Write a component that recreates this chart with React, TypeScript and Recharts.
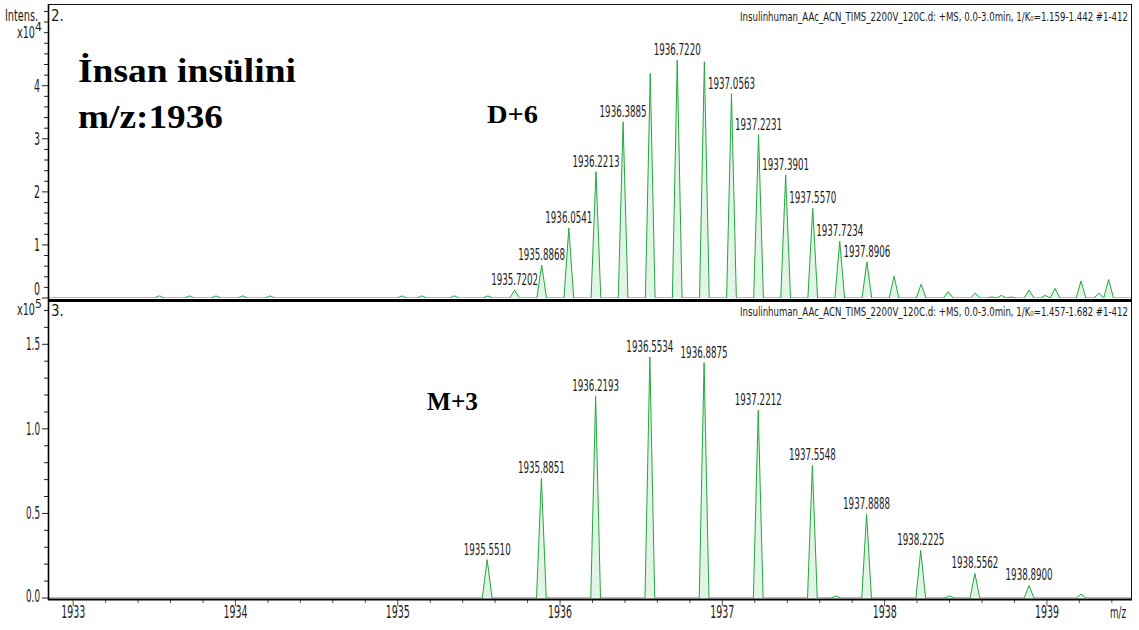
import { ComposedChart, Area, Scatter, XAxis, YAxis } from "recharts";

const MZ_MIN = 1932.845;
const MZ_MAX = 1939.518;

// trace 2: 1/K0 = 1.159-1.442, intensities in units of 1e4
const TOP_MZ = [
  1933.531, 1933.716, 1933.88, 1934.045, 1934.213, 1935.025, 1935.148, 1935.349, 1935.555,
  1935.7202, 1935.8868, 1936.0541, 1936.2213, 1936.3885, 1936.5557, 1936.722, 1936.8893,
  1937.0563, 1937.2231, 1937.3901, 1937.557, 1937.7234, 1937.8906, 1938.058, 1938.225,
  1938.392, 1938.558, 1938.66, 1938.72, 1938.78, 1938.89, 1938.99, 1939.05, 1939.21, 1939.32,
  1939.38,
];
const TOP_INT = [
  0.04, 0.04, 0.04, 0.04, 0.04, 0.04, 0.04, 0.04, 0.04,
  0.15, 0.62, 1.32, 2.38, 3.32, 4.23, 4.48, 4.45,
  3.85, 3.08, 2.32, 1.69, 1.07, 0.68, 0.41, 0.26,
  0.12, 0.09, 0.02, 0.05, 0.02, 0.15, 0.05, 0.18, 0.32, 0.09,
  0.35,
];
const TOP_LABELS = [
  "1935.7202", "1935.8868", "1936.0541", "1936.2213", "1936.3885", "1936.7220",
  "1937.0563", "1937.2231", "1937.3901", "1937.5570", "1937.7234", "1937.8906",
];

// trace 3: 1/K0 = 1.457-1.682, intensities in units of 1e5
const BOTTOM_MZ = [
  1935.551, 1935.8851, 1936.2193, 1936.5534, 1936.8875, 1937.2212, 1937.5548, 1937.7,
  1937.8888, 1938.2225, 1938.4, 1938.5562, 1938.89, 1939.21,
];
const BOTTOM_INT = [
  0.227, 0.707, 1.192, 1.425, 1.392, 1.11, 0.784, 0.012,
  0.494, 0.281, 0.012, 0.145, 0.074, 0.023,
];
const BOTTOM_LABELS = [
  "1935.5510", "1935.8851", "1936.2193", "1936.5534", "1936.8875", "1937.2212",
  "1937.5548", "1937.8888", "1938.2225", "1938.5562", "1938.8900",
];

const TOP_Y_TICKS = [
  0, 0.2, 0.4, 0.6, 0.8, 1, 1.2, 1.4, 1.6, 1.8, 2, 2.2, 2.4, 2.6, 2.8, 3, 3.2, 3.4, 3.6, 3.8,
  4, 4.2, 4.4, 4.6, 4.8, 5, 5.2, 5.4,
];
const TOP_Y_LABELS = [0, 1, 2, 3, 4];
const BOTTOM_Y_TICKS = [
  0, 0.1, 0.2, 0.3, 0.4, 0.5, 0.6, 0.7, 0.8, 0.9, 1, 1.1, 1.2, 1.3, 1.4, 1.5, 1.6, 1.7,
];
const BOTTOM_Y_LABELS = [0, 0.5, 1, 1.5];
const X_TICKS = [
  1933, 1933.2, 1933.4, 1933.6, 1933.8, 1934, 1934.2, 1934.4, 1934.6, 1934.8, 1935, 1935.2,
  1935.4, 1935.6, 1935.8, 1936, 1936.2, 1936.4, 1936.6, 1936.8, 1937, 1937.2, 1937.4, 1937.6,
  1937.8, 1938, 1938.2, 1938.4, 1938.6, 1938.8, 1939, 1939.2, 1939.4,
];
const X_LABELS = [1933, 1934, 1935, 1936, 1937, 1938, 1939];

const TRACE = "#22a83e";
const TRACE_FILL = "#e2f4e5";
const NARROW = "'Liberation Sans Narrow', 'DejaVu Sans Condensed', 'Liberation Sans', sans-serif";
const SERIF = "'Liberation Serif', 'Times New Roman', serif";
const PEAK_HALF_WIDTH = 0.03;

type Pt = { mz: number; i: number };

// stick list -> triangular profile sitting on a zero baseline
function toProfile(mz: number[], inten: number[]): Pt[] {
  const pts: Pt[] = [{ mz: MZ_MIN, i: 0 }];
  mz.forEach((m, k) => {
    pts.push({ mz: m - PEAK_HALF_WIDTH, i: 0 }, { mz: m, i: inten[k] }, { mz: m + PEAK_HALF_WIDTH, i: 0 });
  });
  pts.push({ mz: MZ_MAX, i: 0 });
  return pts;
}

function toLabels(labels: string[], mz: number[], inten: number[]) {
  return labels.map((text) => {
    const m = Number(text);
    const k = mz.findIndex((v) => Math.abs(v - m) < 1e-6);
    return { mz: m, i: inten[k], text };
  });
}

const topProfile = toProfile(TOP_MZ, TOP_INT);
const bottomProfile = toProfile(BOTTOM_MZ, BOTTOM_INT);
const topPeaks = toLabels(TOP_LABELS, TOP_MZ, TOP_INT);
const bottomPeaks = toLabels(BOTTOM_LABELS, BOTTOM_MZ, BOTTOM_INT);

const isIn = (list: number[], v: number) => list.some((l) => Math.abs(l - v) < 1e-6);

const PeakLabel = (props: any) => {
  const { cx, cy, payload } = props;
  return (
    <text
      x={cx}
      y={cy - 5}
      textAnchor="middle"
      fontFamily={NARROW}
      fontSize={15}
      textLength={47}
      lengthAdjust="spacingAndGlyphs"
      fill="#1a1a1a"
    >
      {payload.text}
    </text>
  );
};

// zeroLift raises the "0" label off the panel's bottom rule
function makeYTick(labels: number[], fmt: (v: number) => string, zeroLift: number) {
  return (props: any) => {
    const { x, y, payload } = props;
    const v = payload.value;
    const major = isIn(labels, v);
    const s = fmt(v);
    const ty = v === 0 ? y + 6 - zeroLift : y + 6;
    return (
      <g>
        <line x1={x - (major ? 6 : 4)} x2={x} y1={y} y2={y} stroke="#222" strokeWidth={1} />
        {major && (
          <text
            x={x - 8}
            y={ty}
            textAnchor="end"
            fontFamily={NARROW}
            fontSize={17}
            textLength={s.length === 1 ? 6 : 14}
            lengthAdjust="spacingAndGlyphs"
            fill="#1a1a1a"
          >
            {s}
          </text>
        )}
      </g>
    );
  };
}

const XTick = (props: any) => {
  const { x, y, payload } = props;
  const v = payload.value;
  const major = isIn(X_LABELS, v);
  return (
    <g>
      <line x1={x} x2={x} y1={y + 1} y2={y + (major ? 8 : 5)} stroke="#555" strokeWidth={1} />
      {major && (
        <text
          x={x}
          y={y + 20}
          textAnchor="middle"
          fontFamily={NARROW}
          fontSize={17}
          textLength={24}
          lengthAdjust="spacingAndGlyphs"
          fill="#1a1a1a"
        >
          {Math.round(v)}
        </text>
      )}
    </g>
  );
};

const topYTick = makeYTick(TOP_Y_LABELS, (v) => String(v), 9);
const bottomYTick = makeYTick(BOTTOM_Y_LABELS, (v) => v.toFixed(1), 2);

export default function App() {
  return (
    <div style={{ position: "absolute", left: 0, top: 0, width: 1139, height: 630, background: "#fff" }}>
      <div style={{ position: "absolute", left: 0, top: 0 }}>
        <ComposedChart width={1139} height={300} data={topProfile} margin={{ top: 4, right: 8, bottom: 2, left: 0 }}>
          <XAxis type="number" dataKey="mz" domain={[MZ_MIN, MZ_MAX]} allowDataOverflow hide />
          <YAxis
            type="number"
            domain={[0, 5.54]}
            allowDataOverflow
            ticks={TOP_Y_TICKS}
            interval={0}
            width={48}
            axisLine={false}
            tickLine={false}
            tickSize={0}
            tickMargin={0}
            tick={topYTick}
          />
          <Area
            type="linear"
            dataKey="i"
            stroke={TRACE}
            strokeWidth={1}
            fill={TRACE_FILL}
            fillOpacity={1}
            dot={false}
            activeDot={false}
            isAnimationActive={false}
          />
          <Scatter data={topPeaks} dataKey="i" shape={PeakLabel} isAnimationActive={false} />
        </ComposedChart>
      </div>
      <div style={{ position: "absolute", left: 0, top: 302 }}>
        <ComposedChart width={1139} height={328} data={bottomProfile} margin={{ top: 0, right: 8, bottom: 0, left: 0 }}>
          <XAxis
            type="number"
            dataKey="mz"
            domain={[MZ_MIN, MZ_MAX]}
            allowDataOverflow
            ticks={X_TICKS}
            interval={0}
            height={32}
            axisLine={false}
            tickLine={false}
            tickSize={0}
            tickMargin={0}
            tick={XTick}
          />
          <YAxis
            type="number"
            domain={[0, 1.75]}
            allowDataOverflow
            ticks={BOTTOM_Y_TICKS}
            interval={0}
            width={48}
            axisLine={false}
            tickLine={false}
            tickSize={0}
            tickMargin={0}
            tick={bottomYTick}
          />
          <Area
            type="linear"
            dataKey="i"
            stroke={TRACE}
            strokeWidth={1}
            fill={TRACE_FILL}
            fillOpacity={1}
            dot={false}
            activeDot={false}
            isAnimationActive={false}
          />
          <Scatter data={bottomPeaks} dataKey="i" shape={PeakLabel} isAnimationActive={false} />
        </ComposedChart>
      </div>

      <svg width={1139} height={630} style={{ position: "absolute", left: 0, top: 0, pointerEvents: "none" }}>
        {/* panel frames */}
        <line x1={48} x2={1131} y1={4.5} y2={4.5} stroke="#111" strokeWidth={1} />
        <line x1={1131.5} x2={1131.5} y1={4} y2={600} stroke="#111" strokeWidth={1} />
        <line x1={48} x2={1132} y1={300.5} y2={300.5} stroke="#000" strokeWidth={3} />
        <line x1={48} x2={1132} y1={599.5} y2={599.5} stroke="#000" strokeWidth={2} />
        <line x1={48.5} x2={48.5} y1={4} y2={600} stroke="#000" strokeWidth={1.6} />

        {/* axis captions */}
        <text x={5} y={21} fontFamily={NARROW} fontSize={15} textLength={33} lengthAdjust="spacingAndGlyphs" fill="#1a1a1a">
          Intens.
        </text>
        <text x={51} y={21} fontFamily={NARROW} fontSize={15} fill="#1a1a1a">2.</text>
        <text x={17} y={38} fontFamily={NARROW} fontSize={16} fill="#1a1a1a">
          <tspan textLength={18} lengthAdjust="spacingAndGlyphs">x10</tspan>
          <tspan dy={-7} fontSize={12}>4</tspan>
        </text>
        <text x={51} y={316} fontFamily={NARROW} fontSize={15} fill="#1a1a1a">3.</text>
        <text x={17} y={315} fontFamily={NARROW} fontSize={16} fill="#1a1a1a">
          <tspan textLength={18} lengthAdjust="spacingAndGlyphs">x10</tspan>
          <tspan dy={-7} fontSize={12}>5</tspan>
        </text>
        <text x={1110} y={618} fontFamily={NARROW} fontSize={16} textLength={16} lengthAdjust="spacingAndGlyphs" fill="#1a1a1a">
          m/z
        </text>

        {/* acquisition headers */}
        <text x={740} y={21} fontFamily={NARROW} fontSize={12} textLength={388} lengthAdjust="spacingAndGlyphs" fill="#1a1a1a">
          Insulinhuman_AAc_ACN_TIMS_2200V_120C.d: +MS, 0.0-3.0min, 1/K₀=1.159-1.442 #1-412
        </text>
        <text x={740} y={316} fontFamily={NARROW} fontSize={12} textLength={388} lengthAdjust="spacingAndGlyphs" fill="#1a1a1a">
          Insulinhuman_AAc_ACN_TIMS_2200V_120C.d: +MS, 0.0-3.0min, 1/K₀=1.457-1.682 #1-412
        </text>

        {/* annotations */}
        <text x={78} y={82} fontFamily={SERIF} fontWeight="bold" fontSize={34} textLength={218} lengthAdjust="spacingAndGlyphs" fill="#000">
          İnsan insülini
        </text>
        <text x={78} y={128} fontFamily={SERIF} fontWeight="bold" fontSize={34} textLength={145} lengthAdjust="spacingAndGlyphs" fill="#000">
          m/z:1936
        </text>
        <text x={487} y={123} fontFamily={SERIF} fontWeight="bold" fontSize={26} textLength={51} lengthAdjust="spacingAndGlyphs" fill="#000">
          D+6
        </text>
        <text x={427} y={410} fontFamily={SERIF} fontWeight="bold" fontSize={26} textLength={51} lengthAdjust="spacingAndGlyphs" fill="#000">
          M+3
        </text>
      </svg>
    </div>
  );
}
